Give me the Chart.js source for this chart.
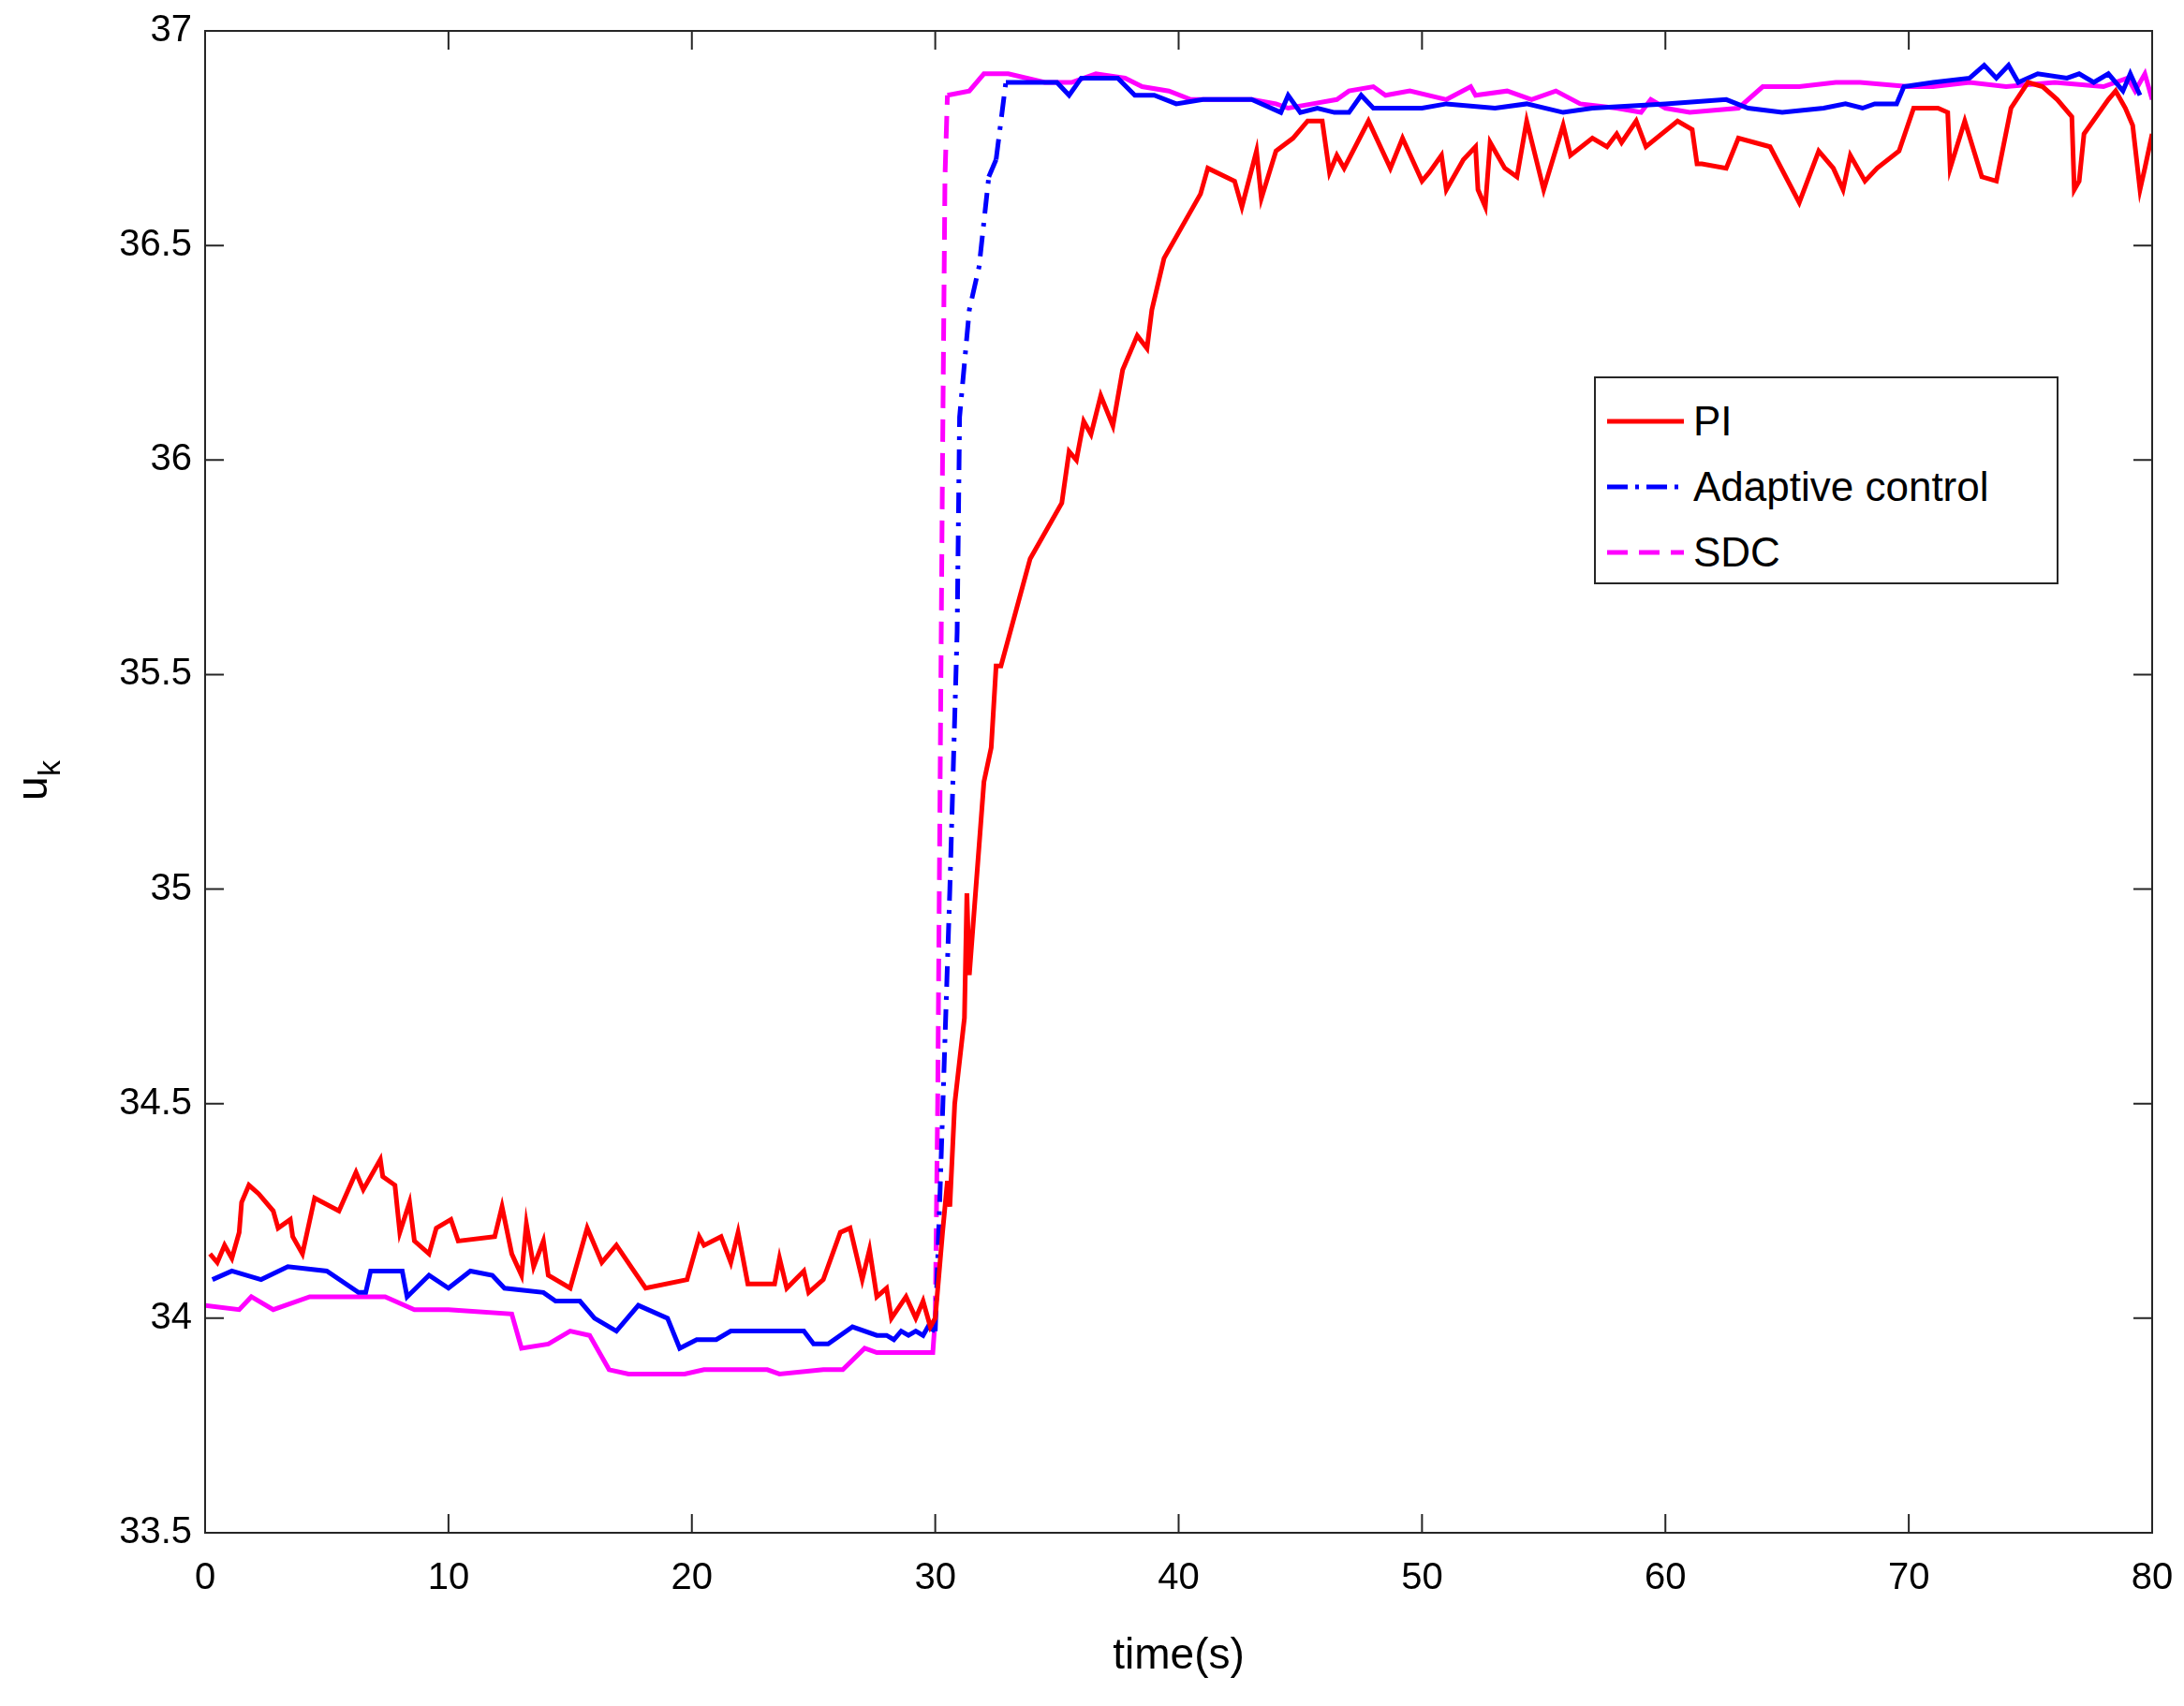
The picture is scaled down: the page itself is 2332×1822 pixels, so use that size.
<!DOCTYPE html>
<html><head><meta charset="utf-8">
<script src="https://cdn.jsdelivr.net/npm/chart.js@4/dist/chart.umd.min.js"></script>
<style>
html,body{margin:0;padding:0;background:#fff;}
#wrap{position:relative;width:2332px;height:1822px;}
#legend{position:absolute;left:1702px;top:402px;width:496px;height:222px;border:2px solid #262626;background:#fff;font-family:"Liberation Sans",Arial,sans-serif;font-size:44px;color:#000;box-sizing:border-box;}
.row{position:absolute;left:12px;height:60px;display:flex;align-items:center;}
.row canvas{margin-right:10px;}
</style></head><body>
<div id="wrap"><canvas id="c" width="2332" height="1822"></canvas>
<div id="legend">
<div class="row" style="top:16px"><canvas id="l0" width="82" height="10"></canvas>PI</div>
<div class="row" style="top:86px"><canvas id="l1" width="82" height="10"></canvas>Adaptive control</div>
<div class="row" style="top:156px"><canvas id="l2" width="82" height="10"></canvas>SDC</div>
</div></div>
<script>
var piT = [0.2,0.5,0.8,1.1,1.4,1.5,1.8,2.2,2.8,3,3.5,3.6,4,4.5,5.5,6.2,6.5,7.2,7.3,7.8,8.0,8.4,8.6,9.2,9.5,10.1,10.4,11.9,12.2,12.6,13,13.2,13.5,13.9,14.1,15,15.7,16.3,16.9,17.5,18.1,19.8,20.3,20.5,21.2,21.6,21.9,22.3,23.4,23.6,23.9,24.6,24.8,25.4,26.1,26.5,27,27.3,27.6,28,28.2,28.8,29.2,29.5,29.8,30,30.3,30.5,30.6,30.8,31.2,31.3,31.4,32,32.3,32.5,32.7,33.9,35.2,35.5,35.8,36.1,36.4,36.8,37.3,37.7,38.3,38.7,38.9,39.4,40.9,41.2,42.3,42.6,43.2,43.4,44,44.7,45.3,45.9,46.2,46.5,46.8,47.8,48.7,49.2,50,50.3,50.8,51,51.7,52.2,52.3,52.6,52.8,53.4,53.9,54.3,55,55.8,56.1,57,57.6,58,58.2,58.8,59.2,60.5,61.1,61.3,61.5,62.5,63,64.3,65.5,66.3,66.9,67.3,67.6,68.2,68.7,69.6,70.2,71.2,71.6,71.7,72.3,73,73.6,74.2,74.9,75.5,76.1,76.7,76.8,77,77.2,78.2,78.5,78.9,79.2,79.5,79.7,80];
var piU = [34.15,34.13,34.17,34.14,34.2,34.27,34.31,34.29,34.25,34.21,34.23,34.19,34.15,34.28,34.25,34.34,34.3,34.37,34.33,34.31,34.2,34.27,34.18,34.15,34.21,34.23,34.18,34.19,34.26,34.15,34.1,34.22,34.12,34.18,34.1,34.07,34.21,34.13,34.17,34.12,34.07,34.09,34.19,34.17,34.19,34.13,34.2,34.08,34.08,34.14,34.07,34.11,34.06,34.09,34.2,34.21,34.09,34.16,34.05,34.07,34.0,34.05,34.0,34.04,33.98,34.0,34.2,34.32,34.26,34.5,34.7,34.99,34.8,35.25,35.33,35.52,35.52,35.77,35.9,36.02,36.0,36.09,36.06,36.15,36.08,36.21,36.29,36.26,36.35,36.47,36.62,36.68,36.65,36.59,36.72,36.61,36.72,36.75,36.79,36.79,36.67,36.71,36.68,36.79,36.68,36.75,36.65,36.67,36.71,36.63,36.7,36.73,36.63,36.59,36.74,36.68,36.66,36.79,36.63,36.78,36.71,36.75,36.73,36.76,36.74,36.79,36.73,36.79,36.77,36.69,36.69,36.68,36.75,36.73,36.6,36.72,36.68,36.63,36.71,36.65,36.68,36.72,36.82,36.82,36.81,36.68,36.79,36.66,36.65,36.82,36.88,36.87,36.84,36.8,36.63,36.65,36.76,36.84,36.86,36.82,36.78,36.63,36.68,36.76,36.76];
var acT = [0.3,1.1,2.3,3.4,5,6.3,6.6,6.8,8.1,8.3,9.2,10,10.9,11.8,12.3,13.9,14.4,15.4,16,16.9,17.8,19,19.5,20.2,21,21.6,24.6,25,25.6,26.6,27.6,28,28.3,28.6,28.9,29.2,29.5,29.7,30,30.2,30.6,30.9,31.0,31.4,31.8,32.2,32.5,32.9,35,35.5,36,37.5,38.2,39,39.9,41,43,44.2,44.5,45,45.7,46.4,47,47.5,48,50,51,53,54.3,55.8,57,60,62.5,63.4,64.8,66.5,67.4,68.1,68.6,69.5,69.8,71,72.5,73.1,73.6,74.1,74.5,75.3,76.5,77,77.6,78.2,78.8,79.1,79.5];
var acU = [34.09,34.11,34.09,34.12,34.11,34.06,34.06,34.11,34.11,34.05,34.1,34.07,34.11,34.1,34.07,34.06,34.04,34.04,34.0,33.97,34.03,34.0,33.93,33.95,33.95,33.97,33.97,33.94,33.94,33.98,33.96,33.96,33.95,33.97,33.96,33.97,33.96,33.98,33.97,34.3,35.0,35.6,36.1,36.35,36.45,36.66,36.7,36.88,36.88,36.85,36.89,36.89,36.85,36.85,36.83,36.84,36.84,36.81,36.85,36.81,36.82,36.81,36.81,36.85,36.82,36.82,36.83,36.82,36.83,36.81,36.82,36.83,36.84,36.82,36.81,36.82,36.83,36.82,36.83,36.83,36.87,36.88,36.89,36.92,36.89,36.92,36.88,36.9,36.89,36.9,36.88,36.9,36.86,36.9,36.85];
var sdcT = [0,1.4,1.9,2.8,4.3,7.4,8.6,10,12.6,13,14.1,15,15.8,16.6,17.4,19.7,20.5,23.1,23.6,25.4,26.2,27.1,27.6,29.9,30,30.1,30.3,30.4,30.5,31.4,32,33,34.5,35.6,36.6,37.8,38.5,39.6,40.5,41.5,43,44,44.5,45.5,46.5,47,48,48.5,49.5,51,52,52.2,53.5,54.5,55.5,56.5,58,59,59.4,60,61,63,64,65.5,67,68,70,71,72.5,74,76,78,79,79.3,79.7,80];
var sdcU = [34.03,34.02,34.05,34.02,34.05,34.05,34.02,34.02,34.01,33.93,33.94,33.97,33.96,33.88,33.87,33.87,33.88,33.88,33.87,33.88,33.88,33.93,33.92,33.92,34.0,34.5,36.0,36.66,36.85,36.86,36.9,36.9,36.88,36.88,36.9,36.89,36.87,36.86,36.84,36.84,36.84,36.83,36.82,36.83,36.84,36.86,36.87,36.85,36.86,36.84,36.87,36.85,36.86,36.84,36.86,36.83,36.82,36.81,36.84,36.82,36.81,36.82,36.87,36.87,36.88,36.88,36.87,36.87,36.88,36.87,36.88,36.87,36.89,36.86,36.9,36.84];
var xTicks = [0,10,20,30,40,50,60,70,80];
var yTicks = [33.5,34,34.5,35,35.5,36,36.5,37];

function pts(t, u) { return t.map(function(v, i) { return {x: v, y: u[i]}; }); }
var FONT = '"Liberation Sans", Arial, sans-serif';

var steep = function(ctx) {
    return Math.abs(ctx.p1.parsed.y - ctx.p0.parsed.y) > 0.1 ? [22, 10, 4, 10] : undefined;
};
var frame = {
    id: 'frame',
    afterDraw: function(chart) {
        var c = chart.ctx, a = chart.chartArea, xs = chart.scales.x, ys = chart.scales.y;
        c.save();
        c.strokeStyle = '#262626'; c.lineWidth = 2;
        c.strokeRect(a.left, a.top, a.right - a.left, a.bottom - a.top);
        c.beginPath();
        xTicks.forEach(function(v) { var p = xs.getPixelForValue(v);
            c.moveTo(p, a.bottom); c.lineTo(p, a.bottom - 20); c.moveTo(p, a.top); c.lineTo(p, a.top + 20); });
        yTicks.forEach(function(v) { var p = ys.getPixelForValue(v);
            c.moveTo(a.left, p); c.lineTo(a.left + 20, p); c.moveTo(a.right, p); c.lineTo(a.right - 20, p); });
        c.stroke();
        c.fillStyle = '#000';
        c.font = '40px ' + FONT; c.textAlign = 'center';
        xTicks.forEach(function(v) { c.fillText(String(v), xs.getPixelForValue(v), a.bottom + 60); });
        c.textAlign = 'right'; c.textBaseline = 'middle';
        yTicks.forEach(function(v) { c.fillText(String(v), a.left - 14, ys.getPixelForValue(v)); });
        c.font = '46px ' + FONT; c.textAlign = 'center'; c.textBaseline = 'alphabetic';
        c.fillText('time(s)', (a.left + a.right) / 2, a.bottom + 145);
        c.translate(50, (a.top + a.bottom) / 2); c.rotate(-Math.PI / 2);
        c.textAlign = 'left';
        c.fillText('u', -20, 0);
        c.font = '34px ' + FONT; c.fillText('k', 6, 14);
        c.restore();
    }
};

new Chart(document.getElementById('c').getContext('2d'), {
    type: 'line',
    data: { datasets: [
        { data: pts(piT, piU), borderColor: '#ff0000', borderWidth: 5 },
        { data: pts(acT, acU), borderColor: '#0000ff', borderWidth: 5, segment: { borderDash: steep } },
        { data: pts(sdcT, sdcU), borderColor: '#ff00ff', borderWidth: 5, segment: { borderDash: function(ctx) { return Math.abs(ctx.p1.parsed.y - ctx.p0.parsed.y) > 0.1 ? [24, 12] : undefined; } } }
    ] },
    options: {
        responsive: false, animation: false,
        elements: { point: { radius: 0 }, line: { tension: 0 } },
        layout: { padding: { top: 33, right: 34 } },
        plugins: { legend: { display: false }, tooltip: { enabled: false } },
        scales: {
            x: { type: 'linear', min: 0, max: 80, grid: { display: false }, border: { display: false },
                 ticks: { display: false }, afterFit: function(s) { s.height = 185; } },
            y: { type: 'linear', min: 33.5, max: 37, grid: { display: false }, border: { display: false },
                 ticks: { display: false }, afterFit: function(s) { s.width = 219; } }
        }
    },
    plugins: [frame]
});

[['l0', '#ff0000', []], ['l1', '#0000ff', [22, 8, 4, 8]], ['l2', '#ff00ff', [22, 12]]].forEach(function(l) {
    var c = document.getElementById(l[0]).getContext('2d');
    c.strokeStyle = l[1]; c.lineWidth = 5; c.setLineDash(l[2]);
    c.beginPath(); c.moveTo(0, 5); c.lineTo(82, 5); c.stroke();
});
</script></body></html>
